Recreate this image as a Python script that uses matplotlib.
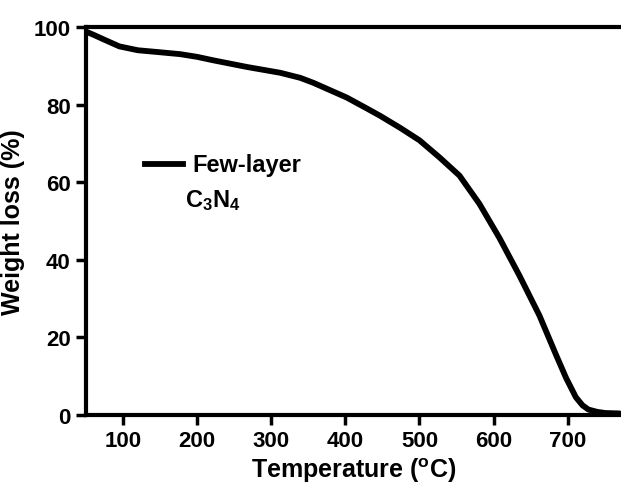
import matplotlib
matplotlib.use("Agg")
import matplotlib.pyplot as plt

plt.rcParams['font.family'] = ['Liberation Sans', 'DejaVu Sans']
plt.rcParams['font.weight'] = 'bold'
plt.rcParams['mathtext.fontset'] = 'custom'
plt.rcParams['mathtext.rm'] = 'Liberation Sans:bold'
plt.rcParams['mathtext.default'] = 'rm'

temperature = [50, 60, 75, 95, 120, 149, 177, 200, 222, 267, 312, 339, 357, 402, 429,
               447, 474, 500, 527, 554, 581, 608, 635, 662, 685, 698, 711, 720, 728,
               740, 751, 770]
weight = [98.8, 98.0, 96.7, 95.0, 94.0, 93.5, 93.0, 92.3, 91.4, 89.7, 88.2, 86.9, 85.6,
          81.8, 79.0, 77.1, 74.0, 70.8, 66.4, 61.7, 54.4, 45.6, 35.9, 25.6, 15.2, 9.5,
          4.6, 2.5, 1.4, 0.8, 0.5, 0.4]

xticks = [100, 200, 300, 400, 500, 600, 700]
yticks = [0, 20, 40, 60, 80, 100]

fig = plt.figure(figsize=(6.21, 4.85), dpi=100)
ax = fig.add_axes([0.1385, 0.1423, 0.8615, 0.8000])
ax.plot(temperature, weight, color='black', lw=4.2, solid_capstyle='round',
        solid_joinstyle='round', zorder=3)

ax.set_xlim(50, 772)
ax.set_ylim(0, 100)
ax.set_xticks(xticks)
ax.set_yticks(yticks)
ax.tick_params(direction='out', length=7, width=2.5, labelsize=16, pad=4)
for lab in ax.get_xticklabels() + ax.get_yticklabels():
    lab.set_fontweight('bold')

for s in ['left', 'bottom', 'top']:
    ax.spines[s].set_linewidth(3)
ax.spines['right'].set_visible(False)

ax.set_xlabel('Temperature ($\\mathregular{^o}$C)', fontsize=18, fontweight='bold', labelpad=3)
ax.set_ylabel('Weight loss (%)', fontsize=18, fontweight='bold', labelpad=6)

# legend-like annotation
ax.plot([0.110, 0.181], [0.647, 0.647], transform=ax.transAxes, color='black', lw=4.2,
        clip_on=False)
ax.text(0.198, 0.630, 'Few-layer', transform=ax.transAxes, fontsize=17, fontweight='bold',
        va='baseline', ha='left')
ax.text(0.185, 0.539, 'C$_3$N$_4$', transform=ax.transAxes, fontsize=17, fontweight='bold',
        va='baseline', ha='left')

fig.savefig('out.png', dpi=100)
